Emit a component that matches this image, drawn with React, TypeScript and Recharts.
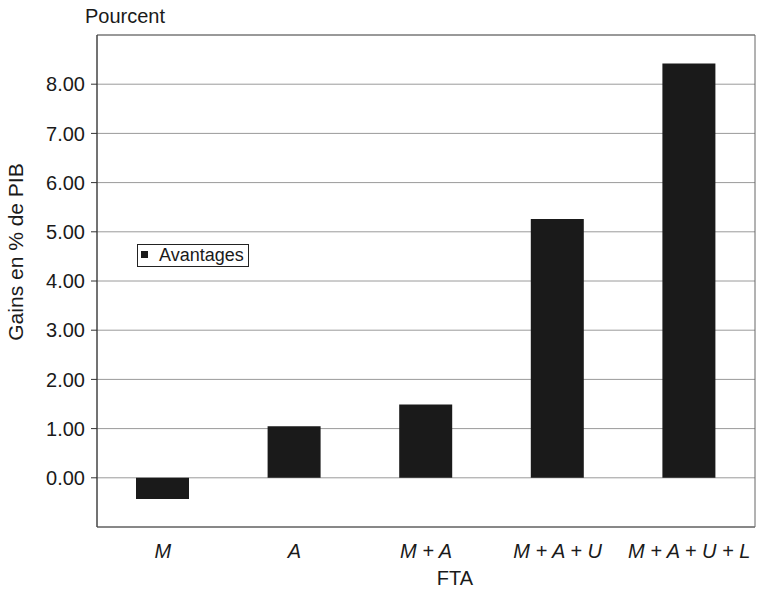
import { BarChart, Bar, XAxis, YAxis, CartesianGrid, Legend, ReferenceArea, Label } from 'recharts'

const categories = ['M', 'A', 'M + A', 'M + A + U', 'M + A + U + L']
const gains = [-0.43, 1.05, 1.49, 5.26, 8.42]
const yTicks = [0, 1, 2, 3, 4, 5, 6, 7, 8]
const seriesName = 'Avantages'

const font = '"Liberation Sans", Arial, sans-serif'

const data = categories.map((c, i) => ({ fta: c, [seriesName]: gains[i] }))

const LegendBox = () => (
  <div
    style={{
      display: 'flex', alignItems: 'center', border: '1px solid #222', background: '#fff',
      padding: '1px 4px 1px 3px', fontFamily: font, fontSize: 18, color: '#1a1a1a', lineHeight: '19px',
    }}
  >
    <span style={{ width: 7, height: 7, background: '#1a1a1a', marginRight: 11, marginTop: -3 }} />
    {seriesName}
  </div>
)

export default function App() {
  return (
    <div style={{ position: 'absolute', left: 0, top: 0, width: 767, height: 593, background: '#fff', fontFamily: font }}>
      <div style={{ position: 'absolute', left: 85, top: 5, fontSize: 20, color: '#1a1a1a' }}>Pourcent</div>
      <div
        style={{
          position: 'absolute', left: 16, top: 252, fontSize: 21, color: '#1a1a1a', whiteSpace: 'nowrap',
          transform: 'translate(-50%, -50%) rotate(-90deg)',
        }}
      >
        Gains en % de PIB
      </div>
      <BarChart width={767} height={593} data={data} margin={{ top: 35, right: 12, bottom: 0, left: 0 }}>
        <CartesianGrid horizontal vertical={false} stroke="#9a9a9a" />
        <ReferenceArea y1={-1} y2={9} fill="none" stroke="#666" strokeOpacity={1} ifOverflow="visible" />
        <XAxis
          dataKey="fta" height={66} tickLine={false} tickSize={0} tickMargin={17}
          axisLine={{ stroke: '#777' }}
          tick={{ fontSize: 20, fontStyle: 'italic', fill: '#1a1a1a', fontFamily: font }}
        >
          <Label value="FTA" position="insideBottom" offset={8} dx={29} style={{ fontSize: 20, fill: '#1a1a1a', fontFamily: font }} />
        </XAxis>
        <YAxis
          width={97} domain={[-1, 9]} ticks={yTicks} allowDataOverflow
          tickFormatter={(v: number) => v.toFixed(2)}
          tickSize={6} tickMargin={6}
          axisLine={{ stroke: '#333' }} tickLine={{ stroke: '#333' }}
          tick={{ fontSize: 20, fill: '#1a1a1a', fontFamily: font }}
        />
        <Legend
          layout="horizontal" verticalAlign="middle" align="center"
          wrapperStyle={{ left: 137, top: 244, width: 'auto' }}
          content={() => <LegendBox />}
        />
        <Bar dataKey={seriesName} fill="#1a1a1a" barSize={53} isAnimationActive={false} />
      </BarChart>
    </div>
  )
}
